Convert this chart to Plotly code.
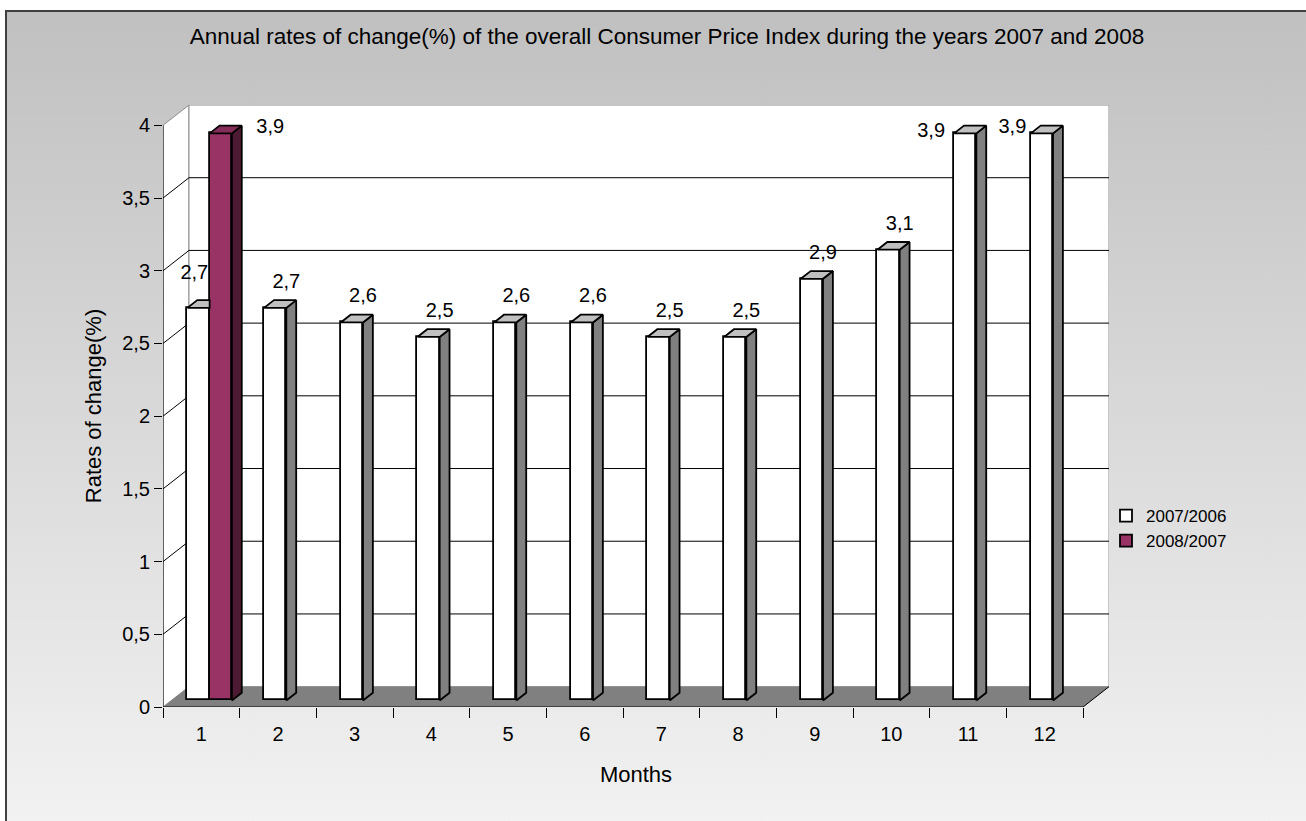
import base64
import plotly.graph_objects as go

# ---- data -------------------------------------------------------------
months = list(range(1, 13))
month_labels = [str(m) for m in months]
rate_2007_2006 = [2.7, 2.7, 2.6, 2.5, 2.6, 2.6, 2.5, 2.5, 2.9, 3.1, 3.9, 3.9]
rate_2008_2007 = [3.9, None, None, None, None, None, None, None, None, None, None, None]
series_names = ["2007/2006", "2008/2007"]
y_ticks = [0, 0.5, 1, 1.5, 2, 2.5, 3, 3.5, 4]
y_tick_labels = ["0", "0,5", "1", "1,5", "2", "2,5", "3", "3,5", "4"]

title = "Annual rates of change(%) of the overall Consumer Price Index during the years 2007 and 2008"
x_title = "Months"
y_title = "Rates of change(%)"

# ---- page geometry ----------------------------------------------------
W, H = 1306, 821
ML, MR, MT, MB = 163, 197, 105, 114
PW, PH = W - ML - MR, H - MT - MB
X_LO = 0.5
X_HI_FRONT = 12.5
Y_TOP = 4.0

# oblique depth of the box (data units) and bar depth slice
DX, DY = 0.339, 0.140
X_MAX = X_LO + PW / 76.67
D_FRONT, D_BACK = 0.32, 0.70
BAR_W = 0.29

FONT = "Arial, Liberation Sans, sans-serif"
FS = 20

WHITE_FRONT, WHITE_TOP, WHITE_SIDE = "#ffffff", "#c0c0c0", "#808080"
PURPLE_FRONT, PURPLE_TOP, PURPLE_SIDE = "#993366", "#862d59", "#4d1a33"
EDGE = "#000000"
WALL_EDGE = "#8c8c8c"


def paper_x(px):
    return (px - ML) / PW


def paper_y(py):
    return (H - MB - py) / PH


fig = go.Figure()

# ---- background gradient and frame ------------------------------------
svg = (
    "<svg xmlns='http://www.w3.org/2000/svg' width='100' height='100' preserveAspectRatio='none'>"
    "<defs><linearGradient id='g' x1='0' y1='0' x2='0' y2='1'>"
    "<stop offset='0' stop-color='#c0c0c0'/><stop offset='1' stop-color='#f3f3f3'/>"
    "</linearGradient></defs><rect width='100' height='100' fill='url(#g)'/></svg>"
)
bg_src = "data:image/svg+xml;base64," + base64.b64encode(svg.encode()).decode()
fig.add_layout_image(
    source=bg_src, xref="paper", yref="paper",
    x=paper_x(6), y=paper_y(11),
    sizex=(W + 20 - 6) / PW, sizey=(H + 20 - 11) / PH,
    xanchor="left", yanchor="top", sizing="stretch", layer="below",
)

shapes = []
shapes.append(dict(type="rect", xref="paper", yref="paper",
                   x0=paper_x(6), y0=paper_y(H + 20), x1=paper_x(W + 20), y1=paper_y(11),
                   line=dict(color="#404040", width=2), fillcolor="rgba(0,0,0,0)", layer="below"))

# ---- walls and floor --------------------------------------------------
bx0, bx1 = X_LO + DX, X_HI_FRONT + DX


def poly(pts):
    return "M " + " L ".join(f"{x},{y}" for x, y in pts) + " Z"


# left wall
shapes.append(dict(type="path", xref="x", yref="y",
                   path=poly([(X_LO, 0), (bx0, DY), (bx0, Y_TOP + DY), (X_LO, Y_TOP)]),
                   fillcolor="white", line=dict(color=WALL_EDGE, width=1), layer="below"))
# back wall
shapes.append(dict(type="rect", xref="x", yref="y", x0=bx0, y0=DY, x1=bx1, y1=Y_TOP + DY,
                   fillcolor="white", line=dict(color=WALL_EDGE, width=1), layer="below"))
# floor
shapes.append(dict(type="path", xref="x", yref="y",
                   path=poly([(X_LO, 0), (X_HI_FRONT, 0), (bx1, DY), (bx0, DY)]),
                   fillcolor="#808080", line=dict(width=0), layer="below"))

# gridlines on the back wall and the left wall
for v in y_ticks[1:-1]:
    shapes.append(dict(type="line", xref="x", yref="y", x0=bx0, y0=v + DY, x1=bx1, y1=v + DY,
                       line=dict(color=EDGE, width=1), layer="below"))
    shapes.append(dict(type="line", xref="x", yref="y", x0=X_LO, y0=v, x1=bx0, y1=v + DY,
                       line=dict(color=EDGE, width=1), layer="below"))

# front axis lines and floor right edge
shapes.append(dict(type="line", xref="x", yref="y", x0=X_LO, y0=0, x1=X_HI_FRONT, y1=0,
                   line=dict(color=EDGE, width=1), layer="below"))
shapes.append(dict(type="line", xref="x", yref="y", x0=X_LO, y0=0, x1=X_LO, y1=Y_TOP,
                   line=dict(color=EDGE, width=1), layer="below"))
shapes.append(dict(type="line", xref="x", yref="y", x0=X_HI_FRONT, y0=0, x1=bx1, y1=DY,
                   line=dict(color=EDGE, width=1), layer="below"))

# ---- bars: front faces ------------------------------------------------
base = D_FRONT * DY
shift = D_FRONT * DX
fig.add_trace(go.Bar(
    x=months, y=rate_2007_2006, base=base, width=BAR_W, offset=shift - BAR_W,
    name=series_names[0], marker=dict(color=WHITE_FRONT, line=dict(color=EDGE, width=1.8)),
    hoverinfo="skip",
))
fig.add_trace(go.Bar(
    x=months, y=rate_2008_2007, base=base, width=BAR_W, offset=shift,
    name=series_names[1], marker=dict(color=PURPLE_FRONT, line=dict(color=EDGE, width=1.8)),
    hoverinfo="skip",
))

# ---- bars: side and top faces ------------------------------------------
a = (D_BACK - D_FRONT) * DX
c = (D_BACK - D_FRONT) * DY


def faces(values, left_offset, hidden_right):
    sx, sy, tx, ty = [], [], [], []
    for m, v, hid in zip(months, values, hidden_right):
        if v is None:
            continue
        xl = m + left_offset
        xr = xl + BAR_W
        top = v + base
        if hid:
            # neighbouring bar covers the right side; keep only the visible part of the top
            tpts = [(xl, top), (xr, top), (xr, top + c), (xl + a, top + c)]
        else:
            spts = [(xr, base), (xr + a, base + c), (xr + a, top + c), (xr, top)]
            for x, y in spts + [spts[0]]:
                sx.append(x)
                sy.append(y)
            sx.append(None)
            sy.append(None)
            tpts = [(xl, top), (xr, top), (xr + a, top + c), (xl + a, top + c)]
        for x, y in tpts + [tpts[0]]:
            tx.append(x)
            ty.append(y)
        tx.append(None)
        ty.append(None)
    return sx, sy, tx, ty


covered = [v is not None for v in rate_2008_2007]
for values, off, hid, side_col, top_col in [
    (rate_2007_2006, shift - BAR_W, covered, WHITE_SIDE, WHITE_TOP),
    (rate_2008_2007, shift, [False] * 12, PURPLE_SIDE, PURPLE_TOP),
]:
    sx, sy, tx, ty = faces(values, off, hid)
    if sx:
        fig.add_trace(go.Scatter(x=sx, y=sy, mode="lines", fill="toself", fillcolor=side_col,
                                 line=dict(color=EDGE, width=1.8), showlegend=False, hoverinfo="skip"))
    fig.add_trace(go.Scatter(x=tx, y=ty, mode="lines", fill="toself", fillcolor=top_col,
                             line=dict(color=EDGE, width=1.8), showlegend=False, hoverinfo="skip"))

# ---- value labels -----------------------------------------------------
LABEL_UP = 0.172
# per-label nudges (x units, y units) where labels sit beside their bar
label_nudge = {
    (0, 1): (-0.20, 0.234 - LABEL_UP),
    (1, 1): (0.50, 0.04 - LABEL_UP),
    (0, 11): (-0.59, 0.01 - LABEL_UP),
    (0, 12): (-0.53, 0.035 - LABEL_UP),
}
lx, ly, lt = [], [], []
for s, (values, right) in enumerate([(rate_2007_2006, shift), (rate_2008_2007, shift + BAR_W)]):
    for m, v in zip(months, values):
        if v is None:
            continue
        nx, ny = label_nudge.get((s, m), (0.0, 0.0))
        lx.append(m + right + nx)
        ly.append(v + base + LABEL_UP + ny)
        lt.append(f"{v:.1f}".replace(".", ","))
fig.add_trace(go.Scatter(x=lx, y=ly, text=lt, mode="text", xaxis="x2",
                         textfont=dict(family=FONT, size=FS, color="black"),
                         textposition="middle center", showlegend=False, hoverinfo="skip"))

fig.update_layout(
    width=W, height=H,
    margin=dict(l=ML, r=MR, t=MT, b=MB, autoexpand=False),
    paper_bgcolor="white", plot_bgcolor="rgba(0,0,0,0)",
    barmode="overlay", bargap=0,
    font=dict(family=FONT, size=FS, color="black"),
    title=dict(text=title, x=paper_x(667), xanchor="center", y=1 - 36 / H, yanchor="middle",
               xref="paper", font=dict(family=FONT, size=22.5, color="black")),
    shapes=shapes,
    showlegend=True,
    legend=dict(x=paper_x(1106), y=paper_y(528.5), xanchor="left", yanchor="middle",
                bgcolor="rgba(0,0,0,0)", font=dict(family=FONT, size=17, color="black"),
                tracegroupgap=0, itemwidth=30),
    xaxis=dict(range=[X_LO, X_MAX], tickvals=[m - 0.5 for m in months] + [12.5],
               ticktext=[""] * 13, ticks="outside", ticklen=10, tickcolor="black", tickwidth=1,
               showgrid=False, zeroline=False, showline=False, fixedrange=True),
    xaxis2=dict(range=[X_LO, X_MAX], overlaying="x", side="bottom", anchor="y",
                tickvals=months, ticktext=month_labels, ticks="", ticklabelstandoff=13,
                showgrid=False, zeroline=False, showline=False,
                tickfont=dict(family=FONT, size=FS, color="black"),
                title=dict(text=x_title, standoff=22, font=dict(family=FONT, size=22, color="black"))),
    yaxis=dict(range=[0, Y_TOP + DY], tickvals=y_ticks, ticktext=y_tick_labels,
               ticks="outside", ticklen=8, tickcolor="black", tickwidth=1,
               showgrid=False, zeroline=False, showline=False,
               tickfont=dict(family=FONT, size=FS, color="black"),
               title=dict(text=y_title, standoff=14, font=dict(family=FONT, size=22, color="black"))),
)

fig.write_html("out.html")
